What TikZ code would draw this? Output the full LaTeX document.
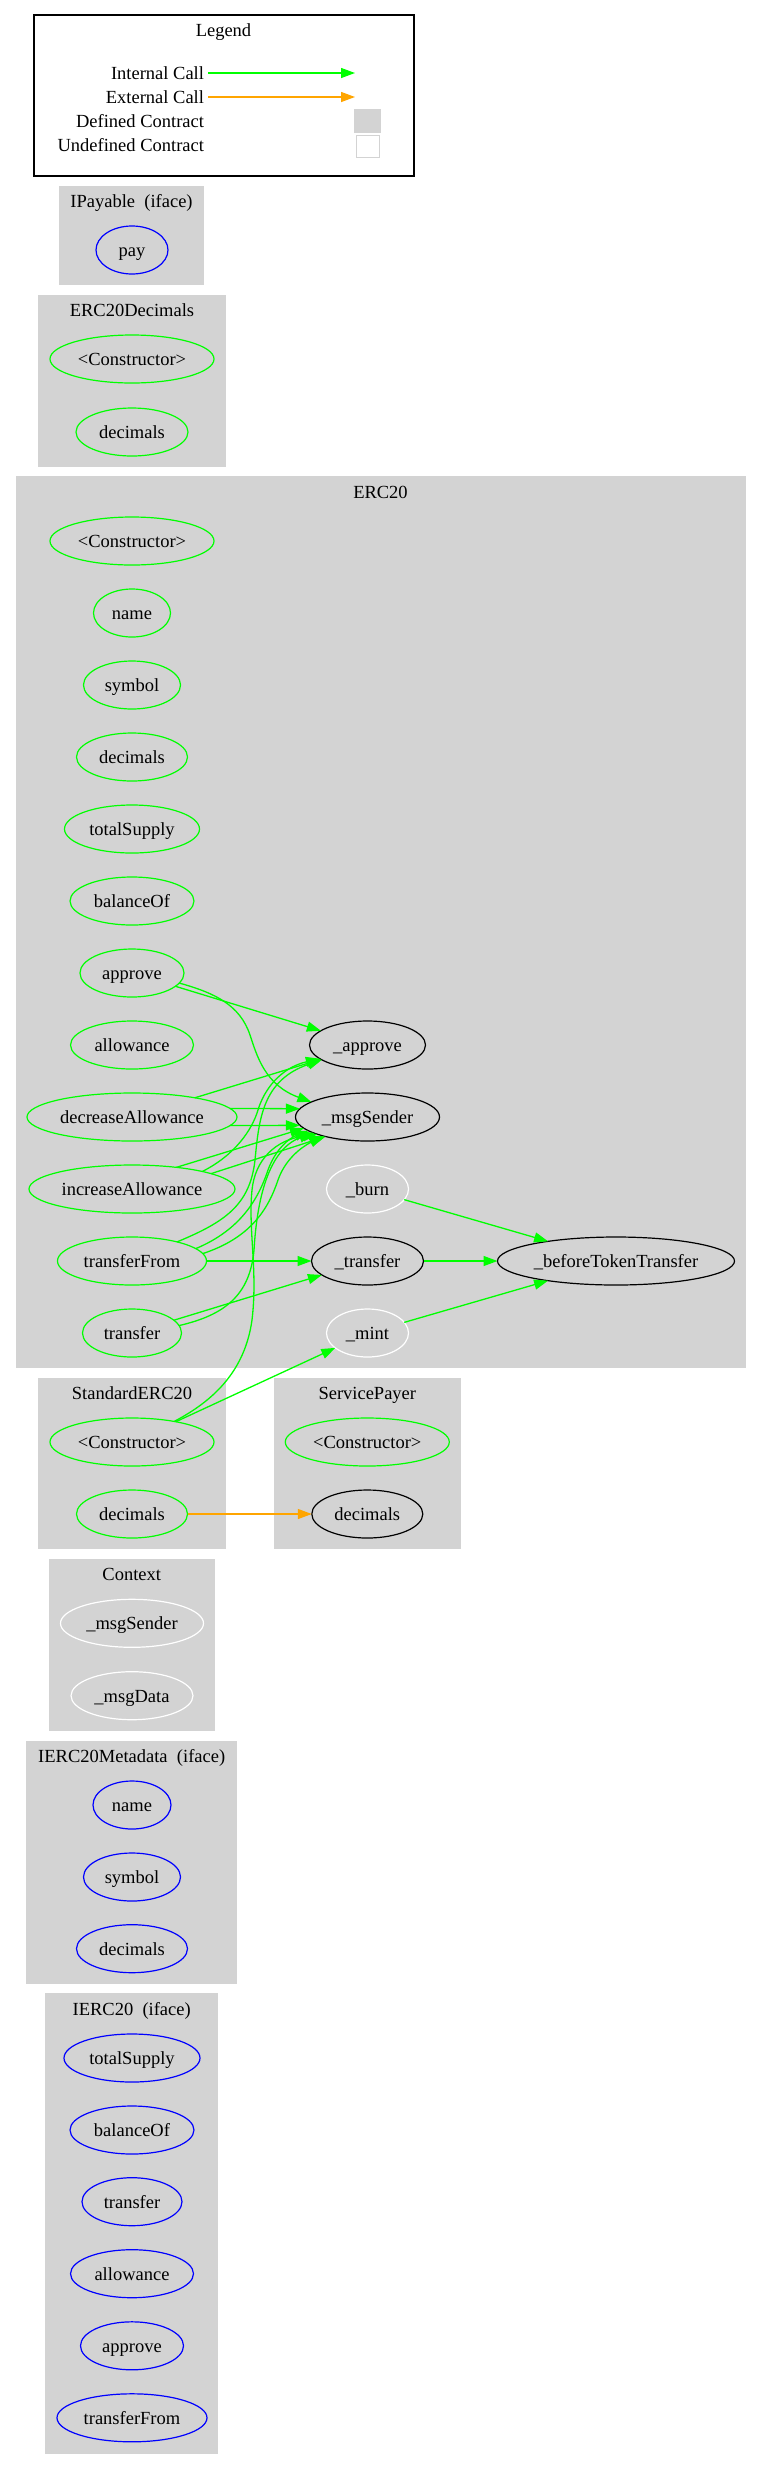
\documentclass[tikz,border=0pt]{standalone}
\usepackage{fontspec}
\setmainfont{Liberation Serif}
\usetikzlibrary{shapes.geometric,arrows.meta}
\definecolor{gvgreen}{HTML}{00FF00}
\definecolor{gvorange}{HTML}{FFA500}
\definecolor{gvblue}{HTML}{0000FF}
\definecolor{gvgray}{HTML}{D3D3D3}
\begin{document}
\begin{tikzpicture}[x=1pt,y=-1pt,
  font=\fontsize{18.5}{22}\selectfont,
  every node/.style={inner sep=0pt,outer sep=0pt,text height=15pt,text depth=2pt},
  fn/.style={ellipse,draw,line width=1.2pt,minimum height=48pt},
  pubfn/.style={fn,draw=gvgreen},
  ifn/.style={fn,draw=gvblue},
  deffn/.style={fn,draw=black},
  undeffn/.style={fn,draw=white},
  clusterbg/.style={fill=gvgray},
  int/.style={draw=gvgreen,line width=1.3pt,-{Triangle[length=14pt,width=10pt]}},
  ext/.style={draw=gvorange,line width=1.3pt,-{Triangle[length=14pt,width=10pt]}}]
\useasboundingbox (0,0) rectangle (761,2469);
\fill[white] (0,0) rectangle (761,2469);

% ---------- Legend ----------
\node[draw=black,line width=1.2pt,minimum width=380pt,minimum height=161pt] (legend) at (224,95.5) {};
\node (legendtitle) at (223.5,30) {Legend};
\node[anchor=east] (lInt) at (204,73) {Internal Call};
\node[anchor=east] (lExt) at (204,97) {External Call};
\node[anchor=east] (lDefT) at (204,121) {Defined Contract};
\node[anchor=east] (lUndefT) at (204,145) {Undefined Contract};
\coordinate (lIntA) at (208,73);
\coordinate (lIntB) at (355,73);
\coordinate (lExtA) at (208,97);
\coordinate (lExtB) at (355,97);
\draw[int] (lIntA) -- (lIntB);
\draw[ext] (lExtA) -- (lExtB);
\node[fill=gvgray,minimum width=27pt,minimum height=24pt] (lDef) at (367.5,121) {};
\node[draw=gvgray,fill=white,line width=1pt,minimum width=23pt,minimum height=22pt] (lUndef) at (367.5,146) {};

% ---------- IPayable ----------
\fill[clusterbg] (59,186) rectangle (204,285);
\node (tIPay) at (131.5,201) {IPayable\ \ (iface)};
\node[ifn,minimum width=72pt] (pay) at (132,250) {pay};

% ---------- ERC20Decimals ----------
\fill[clusterbg] (38,295) rectangle (226,467);
\node (tDecs) at (132,310) {ERC20Decimals};
\node[pubfn,minimum width=164pt] (dCons) at (132,359) {<Constructor>};
\node[pubfn,minimum width=112pt] (dDec) at (132,432) {decimals};

% ---------- ERC20 ----------
\fill[clusterbg] (15.5,476) rectangle (745.5,1368);
\node (tERC) at (380.5,492) {ERC20};
\node[pubfn,minimum width=164pt] (eCons) at (132,541) {<Constructor>};
\node[pubfn,minimum width=77pt] (eName) at (132,613) {name};
\node[pubfn,minimum width=97pt] (eSymbol) at (132,685) {symbol};
\node[pubfn,minimum width=111pt] (eDec) at (132,757) {decimals};
\node[pubfn,minimum width=135pt] (eTotal) at (132,829) {totalSupply};
\node[pubfn,minimum width=124pt] (eBal) at (132,901) {balanceOf};
\node[pubfn,minimum width=104pt] (eApprove) at (132,973) {approve};
\node[pubfn,minimum width=123pt] (eAllow) at (132,1045) {allowance};
\node[pubfn,minimum width=210pt] (eDecA) at (132,1117) {decreaseAllowance};
\node[pubfn,minimum width=206pt] (eIncA) at (132,1189) {increaseAllowance};
\node[pubfn,minimum width=149pt] (eTF) at (132,1261) {transferFrom};
\node[pubfn,minimum width=99pt] (eTr) at (132,1333) {transfer};
\node[deffn,minimum width=116pt] (iApprove) at (367.5,1045) {\_approve};
\node[deffn,minimum width=144pt] (iMsg) at (367.5,1117) {\_msgSender};
\node[undeffn,minimum width=82pt] (iBurn) at (367.5,1189) {\_burn};
\node[deffn,minimum width=112pt] (iTransfer) at (367.5,1261) {\_transfer};
\node[undeffn,minimum width=82pt] (iMint) at (367.5,1333) {\_mint};
\node[deffn,minimum width=237pt] (iBefore) at (616,1261) {\_beforeTokenTransfer};

% ---------- StandardERC20 ----------
\fill[clusterbg] (38,1377.7) rectangle (225.7,1549.3);
\node (tStd) at (132,1392.7) {StandardERC20};
\node[pubfn,minimum width=164pt] (sCons) at (132,1442) {<Constructor>};
\node[pubfn,minimum width=111pt] (sDec) at (132,1514) {decimals};

% ---------- ServicePayer ----------
\fill[clusterbg] (273.7,1377.7) rectangle (461,1549.3);
\node (tSP) at (367.3,1392.7) {ServicePayer};
\node[pubfn,minimum width=164pt] (spCons) at (367.3,1442) {<Constructor>};
\node[deffn,minimum width=111pt] (spDec) at (367.3,1514) {decimals};

% ---------- Context ----------
\fill[clusterbg] (48.7,1559) rectangle (214.7,1730.7);
\node (tCtx) at (131.7,1574) {Context};
\node[undeffn,minimum width=143pt] (cMsg) at (132,1623.3) {\_msgSender};
\node[undeffn,minimum width=122pt] (cData) at (132,1695.7) {\_msgData};

% ---------- IERC20Metadata ----------
\fill[clusterbg] (26.3,1740.5) rectangle (237,1984);
\node (tMeta) at (131.7,1756.3) {IERC20Metadata\ \ (iface)};
\node[ifn,minimum width=78pt] (mName) at (132,1805) {name};
\node[ifn,minimum width=97pt] (mSymbol) at (132,1877) {symbol};
\node[ifn,minimum width=111pt] (mDec) at (132,1948.7) {decimals};

% ---------- IERC20 ----------
\fill[clusterbg] (45.3,1993.4) rectangle (218,2453.6);
\node (tIERC) at (131.7,2008.7) {IERC20\ \ (iface)};
\node[ifn,minimum width=136pt] (iTotal) at (132,2058) {totalSupply};
\node[ifn,minimum width=124pt] (iBal) at (132,2130) {balanceOf};
\node[ifn,minimum width=100pt] (iTr) at (132,2201.7) {transfer};
\node[ifn,minimum width=123pt] (iAllow) at (132,2273.7) {allowance};
\node[ifn,minimum width=103pt] (iAppr) at (132,2345.8) {approve};
\node[ifn,minimum width=150pt] (iTF) at (132,2417.8) {transferFrom};

% ---------- Edges ----------
\draw[int] (eApprove) -- (iApprove);
\draw[int] (eApprove.-12) .. controls (215,993) and (240,1005) .. (250,1035)
  .. controls (257,1056) and (265,1085) .. (iMsg.165);
\draw[int] (eDecA) -- (iApprove);
\draw[int] (eDecA.5) -- (iMsg.173);
\draw[int] (eDecA.-5) -- (iMsg.-173);
\draw[int] (eIncA.26) -- (iMsg.190);
\draw[int] (eIncA.11) -- (iMsg.205);
\draw[int] (eIncA.14) .. controls (235,1155) and (252,1130) .. (258,1110)
  .. controls (264,1090) and (280,1068) .. (iApprove.196);
\draw[int] (eTF.23) .. controls (225,1222) and (250,1205) .. (255,1160)
  .. controls (259,1120) and (262,1080) .. (iApprove.198);
\draw[int] (eTF.11) .. controls (240,1230) and (258,1200) .. (268,1170)
  .. controls (276,1148) and (290,1138) .. (iMsg.193);
\draw[int] (eTF.6) .. controls (250,1238) and (268,1210) .. (278,1180)
  .. controls (285,1160) and (300,1148) .. (iMsg.203);
\draw[int] (eTF) -- (iTransfer);
\draw[int] (eTr) -- (iTransfer);
\draw[int] (eTr.9) .. controls (225,1315) and (250,1295) .. (254,1250)
  .. controls (257,1200) and (268,1150) .. (iMsg.196);
\draw[int] (sCons.26) .. controls (215,1400) and (245,1370) .. (252,1320)
  .. controls (258,1270) and (248,1230) .. (252,1190)
  .. controls (255,1160) and (275,1140) .. (iMsg.199);
\draw[int] (sCons) -- (iMint);
\draw[int] (iBurn) -- (iBefore);
\draw[int] (iTransfer) -- (iBefore);
\draw[int] (iMint) -- (iBefore);
\draw[ext] (sDec) -- (spDec);
\end{tikzpicture}
\end{document}
